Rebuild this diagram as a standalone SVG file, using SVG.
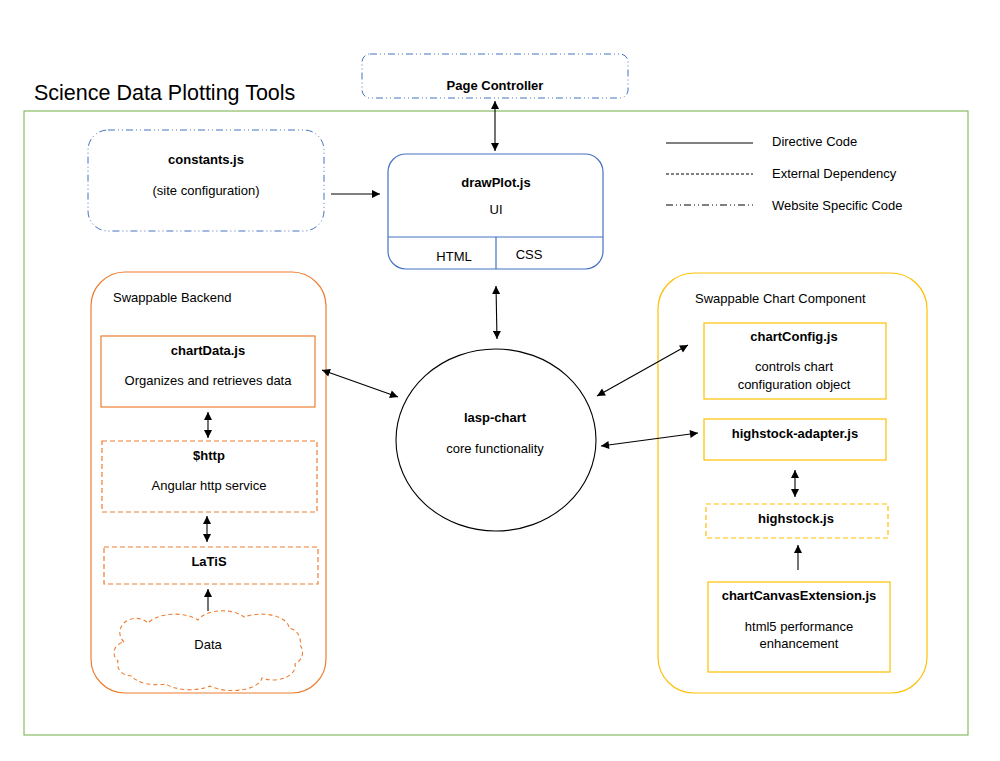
<svg xmlns="http://www.w3.org/2000/svg" width="1000" height="761" viewBox="0 0 1000 761">
<defs>
<marker id="ah" viewBox="0 0 10 10" refX="10" refY="5" markerWidth="9" markerHeight="8" markerUnits="userSpaceOnUse" orient="auto-start-reverse">
<path d="M0,0 L10,5 L0,10 z" fill="#000"/>
</marker>
<style>
text{font-family:"Liberation Sans",Arial,sans-serif;font-size:13px;fill:#000}
.b{font-weight:bold}
.c{text-anchor:middle}
.web{fill:#fff;stroke:#4472C4;stroke-width:1;stroke-dasharray:7 3 1 3 1 3}
.blue{fill:#fff;stroke:#4472C4;stroke-width:1.2}
.or{fill:#fff;stroke:#ED7D31;stroke-width:1.2}
.ord{fill:#fff;stroke:#ED7D31;stroke-width:1.2;stroke-dasharray:5 3}
.ye{fill:#fff;stroke:#FFC000;stroke-width:1.2}
.yed{fill:#fff;stroke:#FFC000;stroke-width:1.2;stroke-dasharray:5 3}
.cn{stroke:#000;stroke-width:1.1;fill:none}
</style>
</defs>
<rect width="1000" height="761" fill="#fff"/>
<text x="34" y="100" style="font-size:21.5px">Science Data Plotting Tools</text>
<rect id="frame" x="24" y="111" width="944" height="624" fill="none" stroke="#70AD47" stroke-width="1"/>

<g id="page-controller">
<rect class="web" x="362" y="54" width="266" height="44" rx="8"/>
<text class="b c" x="495" y="90">Page Controller</text>
</g>

<g id="legend">
<line x1="666" y1="143" x2="753" y2="143" stroke="#000" stroke-width="1"/>
<text x="772" y="146">Directive Code</text>
<line x1="666" y1="174" x2="753" y2="174" stroke="#000" stroke-width="1" stroke-dasharray="3 2"/>
<text x="772" y="178">External Dependency</text>
<line x1="666" y1="205" x2="753" y2="205" stroke="#000" stroke-width="1" stroke-dasharray="7 3 1 3 1 3"/>
<text x="772" y="210">Website Specific Code</text>
</g>

<g id="constants">
<rect class="web" x="88" y="130" width="236" height="101" rx="20"/>
<text class="b c" x="206" y="164">constants.js</text>
<text class="c" x="206" y="195">(site configuration)</text>
</g>

<g id="drawplot">
<rect class="blue" x="388" y="154" width="215" height="115" rx="18"/>
<line x1="388" y1="237" x2="603" y2="237" stroke="#4472C4" stroke-width="1.2"/>
<line x1="496" y1="237" x2="496" y2="269" stroke="#4472C4" stroke-width="1.2"/>
<text class="b c" x="496" y="187">drawPlot.js</text>
<text class="c" x="496" y="214">UI</text>
<text class="c" x="454" y="261">HTML</text>
<text class="c" x="529" y="259">CSS</text>
</g>

<g id="backend">
<rect class="or" x="91" y="272" width="235" height="421" rx="34"/>
<text x="113" y="302">Swappable Backend</text>
</g>
<g id="chartdata">
<rect class="or" x="101" y="336" width="214" height="71"/>
<text class="b c" x="208" y="355">chartData.js</text>
<text class="c" x="208" y="385">Organizes and retrieves data</text>
</g>
<g id="http">
<rect class="ord" x="102" y="441" width="215" height="71"/>
<text class="b c" x="209" y="460">$http</text>
<text class="c" x="209" y="490">Angular http service</text>
</g>
<g id="latis">
<rect class="ord" x="104" y="547" width="214" height="37"/>
<text class="b c" x="209" y="566">LaTiS</text>
</g>
<g id="data">
<path fill="#fff" stroke="#ED7D31" stroke-width="1.1" stroke-dasharray="4 3" d="M124,642 A16,14 0 0 1 148,623 A30,16 0 0 1 198,620 A26,14 0 0 1 244,617 A28,14 0 0 1 289,628 A14,14 0 0 1 300,645 A14,13 0 0 1 295,664 A22,14 0 0 1 262,678 A30,14 0 0 1 210,686 A28,12 0 0 1 166,684 A26,12 0 0 1 132,676 A14,12 0 0 1 118,661 A12,11 0 0 1 124,642 Z"/>
<text class="c" x="208" y="649">Data</text>
</g>

<g id="lasp-chart">
<ellipse cx="496" cy="440" rx="100" ry="91" fill="#fff" stroke="#000" stroke-width="1.1"/>
<text class="b c" x="495" y="422">lasp-chart</text>
<text class="c" x="495" y="453">core functionality</text>
</g>

<g id="chart-component">
<rect class="ye" x="658" y="273" width="269" height="420" rx="36"/>
<text x="695" y="303">Swappable Chart Component</text>
</g>
<g id="chartconfig">
<rect class="ye" x="704" y="323" width="182" height="76"/>
<text class="b c" x="794" y="341">chartConfig.js</text>
<text class="c" x="794" y="371">controls chart</text>
<text class="c" x="794" y="389">configuration object</text>
</g>
<g id="adapter">
<rect class="ye" x="704" y="419" width="182" height="41"/>
<text class="b c" x="795" y="438">highstock-adapter.js</text>
</g>
<g id="highstock">
<rect class="yed" x="706" y="504" width="182" height="34"/>
<text class="b c" x="796" y="523">highstock.js</text>
</g>
<g id="canvasext">
<rect class="ye" x="708" y="582" width="182" height="90"/>
<text class="b c" x="799" y="600">chartCanvasExtension.js</text>
<text class="c" x="799" y="631">html5 performance</text>
<text class="c" x="799" y="648">enhancement</text>
</g>

<g id="connectors">
<line class="cn" x1="495" y1="101" x2="495" y2="151" marker-start="url(#ah)" marker-end="url(#ah)"/>
<line class="cn" x1="331" y1="194" x2="380" y2="194" marker-end="url(#ah)"/>
<line class="cn" x1="496" y1="286" x2="497" y2="339" marker-start="url(#ah)" marker-end="url(#ah)"/>
<line class="cn" x1="322" y1="370" x2="398" y2="397" marker-start="url(#ah)" marker-end="url(#ah)"/>
<line class="cn" x1="597" y1="396" x2="688" y2="345" marker-start="url(#ah)" marker-end="url(#ah)"/>
<line class="cn" x1="601" y1="446" x2="698" y2="433" marker-start="url(#ah)" marker-end="url(#ah)"/>
<line class="cn" x1="208" y1="412" x2="208" y2="438" marker-start="url(#ah)" marker-end="url(#ah)"/>
<line class="cn" x1="207" y1="516" x2="207" y2="542" marker-start="url(#ah)" marker-end="url(#ah)"/>
<line class="cn" x1="208" y1="611" x2="208" y2="589" marker-end="url(#ah)"/>
<line class="cn" x1="795" y1="470" x2="795" y2="497" marker-start="url(#ah)" marker-end="url(#ah)"/>
<line class="cn" x1="798" y1="570" x2="798" y2="545" marker-end="url(#ah)"/>
</g>
</svg>
